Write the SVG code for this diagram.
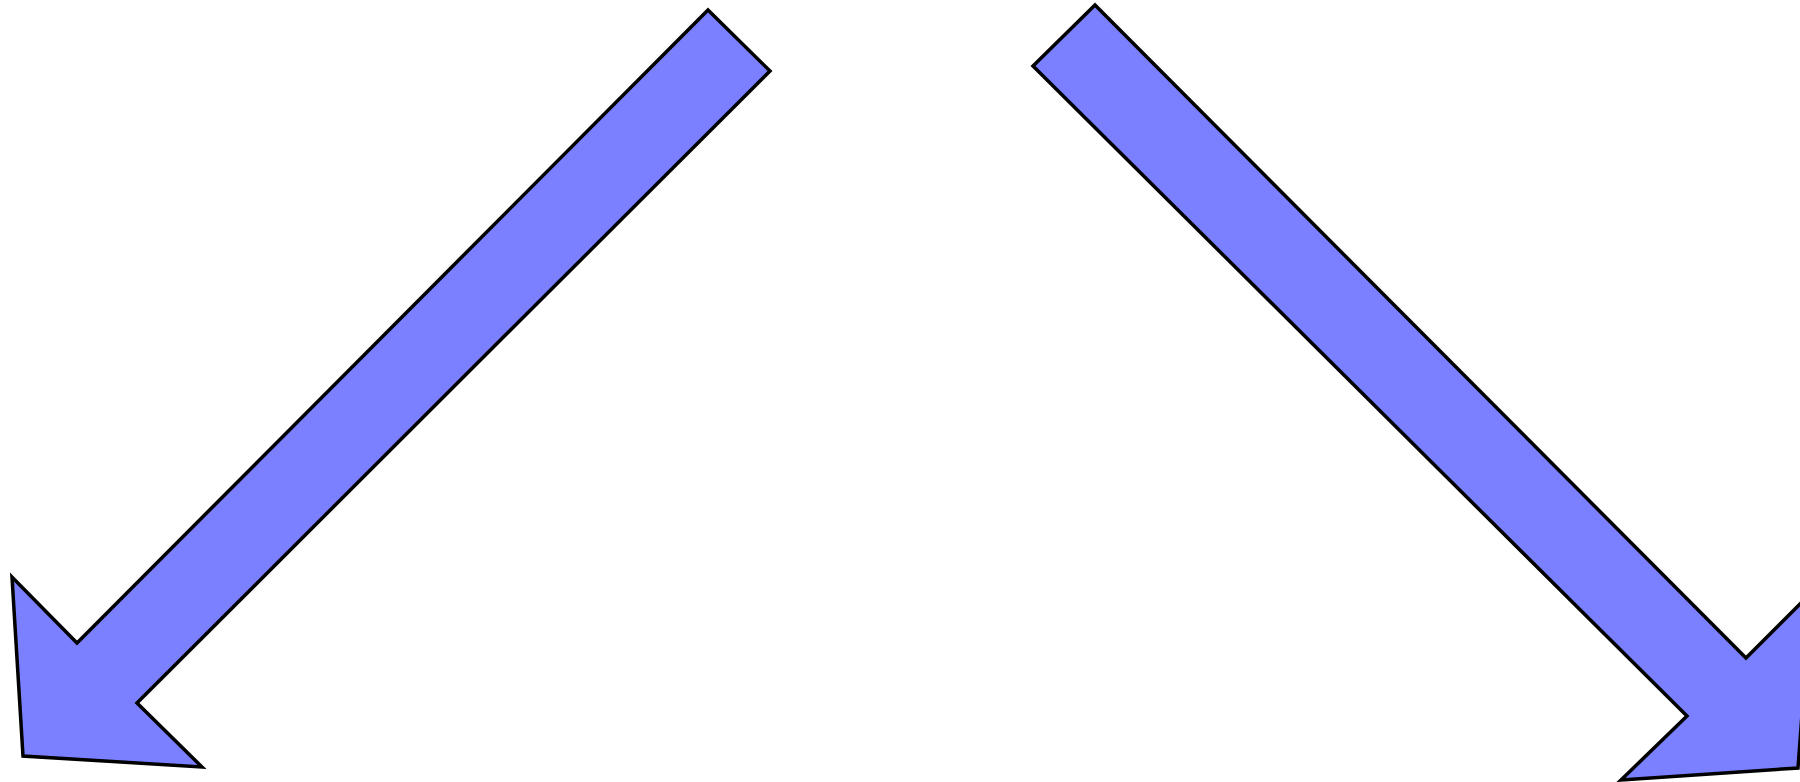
<svg xmlns="http://www.w3.org/2000/svg" width="1800" height="782" viewBox="0 0 1800 782">
<style>
.arrow{fill:#7a80ff;stroke:#000;stroke-width:3.5;stroke-miterlimit:10}
</style>
<rect width="1800" height="782" fill="#fff"/>
<g id="connectors">
<polygon id="arrow-left" class="arrow" points="708,10 770,71 137,703 202,767 23,756 12,577 77,643"/>
<polygon id="arrow-right" class="arrow" points="1095,5 1746,658 1811,593 1798,768 1621,780 1687,716 1033,66"/>
</g>
</svg>
